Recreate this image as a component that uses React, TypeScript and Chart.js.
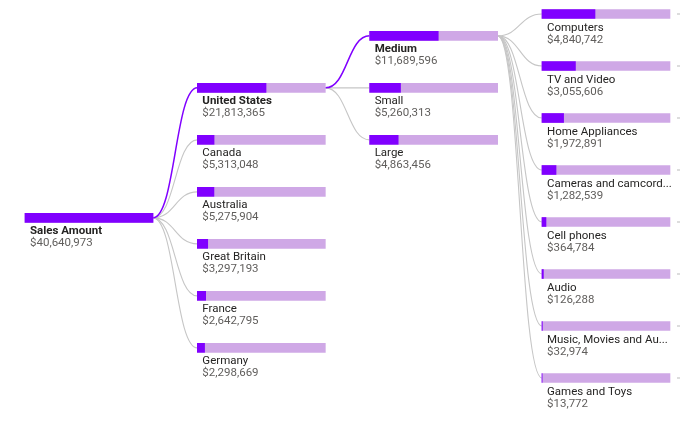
import React, { useEffect, useRef } from "react";
import { Chart, registerables } from "chart.js";

Chart.register(...registerables);

// ---- data ----
const rootLabel = "Sales Amount";
const rootValue = 40640973;

const countries = ["United States", "Canada", "Australia", "Great Britain", "France", "Germany"];
const countryValues = [21813365, 5313048, 5275904, 3297193, 2642795, 2298669];

const sizes = ["Medium", "Small", "Large"];
const sizeValues = [11689596, 5260313, 4863456];

const categories = [
  "Computers",
  "TV and Video",
  "Home Appliances",
  "Cameras and camcorders",
  "Cell phones",
  "Audio",
  "Music, Movies and Audio Books",
  "Games and Toys",
];
const categoryValues = [4840742, 3055606, 1972891, 1282539, 364784, 126288, 32974, 13772];

// index of expanded (highlighted) node on each level
const expandedCountry = 0;
const expandedSize = 0;

// ---- layout constants ----
const W = 683;
const H = 428;
const LEVEL_PX = 172.33;
const ROW_PX = 52;
const BAR_W = 128 / LEVEL_PX;
const ROOT_ROW = 3.92;

const DARK = "#8000FF";
const LIGHT = "#CFA8E6";
const LINE_GREY = "#C6C6C6";

type Node = {
  label: string;
  value: number;
  parentValue: number;
  level: number;
  row: number;
  parent: number;
  hi: boolean;
};

function buildNodes(): Node[] {
  const nodes: Node[] = [];
  nodes.push({ label: rootLabel, value: rootValue, parentValue: rootValue, level: 0, row: ROOT_ROW, parent: -1, hi: true });
  const n1 = countries.length;
  const l1Start = nodes.length;
  countries.forEach((c, i) => {
    nodes.push({
      label: c,
      value: countryValues[i],
      parentValue: rootValue,
      level: 1,
      row: ROOT_ROW + (i - (n1 - 1) / 2),
      parent: 0,
      hi: i === expandedCountry,
    });
  });
  const p1 = l1Start + expandedCountry;
  const l2Start = nodes.length;
  sizes.forEach((s, i) => {
    nodes.push({
      label: s,
      value: sizeValues[i],
      parentValue: countryValues[expandedCountry],
      level: 2,
      row: Math.max(0, nodes[p1].row - (sizes.length - 1) / 2) + i,
      parent: p1,
      hi: i === expandedSize,
    });
  });
  const p2 = l2Start + expandedSize;
  const first3 = Math.max(0, nodes[p2].row - (categories.length - 1) / 2);
  categories.forEach((c, i) => {
    nodes.push({
      label: c,
      value: categoryValues[i],
      parentValue: sizeValues[expandedSize],
      level: 3,
      row: first3 + i,
      parent: p2,
      hi: false,
    });
  });
  return nodes;
}

const fmt = (v: number) => "$" + v.toLocaleString("en-US");

export default function App() {
  const ref = useRef<HTMLCanvasElement>(null);

  useEffect(() => {
    const nodes = buildNodes();
    const FONT = "Roboto, 'Noto Sans', sans-serif";
    const FS = "11.5px ";

    const treePlugin = {
      id: "tree",
      beforeDatasetsDraw(chart: any) {
        const ctx = chart.ctx;
        const xs = chart.scales.x;
        const ys = chart.scales.y;
        const drawLinks = (hiPass: boolean) => {
          nodes.forEach((n) => {
            if (n.parent < 0) return;
            const p = nodes[n.parent];
            const isHi = n.hi && p.hi;
            if (isHi !== hiPass) return;
            const x0 = xs.getPixelForValue(p.level + BAR_W);
            const y0 = ys.getPixelForValue(p.row);
            const x1 = xs.getPixelForValue(n.level);
            const y1 = ys.getPixelForValue(n.row);
            const mx = x0 + (x1 - x0) * 0.5;
            ctx.save();
            ctx.beginPath();
            ctx.moveTo(x0, y0);
            ctx.bezierCurveTo(mx, y0, mx, y1, x1, y1);
            ctx.strokeStyle = isHi ? DARK : LINE_GREY;
            ctx.lineWidth = isHi ? 1.5 : 1.1;
            ctx.stroke();
            ctx.restore();
          });
        };
        drawLinks(false);
        drawLinks(true);
      },
      afterDatasetsDraw(chart: any) {
        const ctx = chart.ctx;
        const xs = chart.scales.x;
        const ys = chart.scales.y;
        ctx.save();
        ctx.textBaseline = "alphabetic";
        ctx.textAlign = "left";
        nodes.forEach((n) => {
          const x = xs.getPixelForValue(n.level) + 5;
          const maxW = xs.getPixelForValue(n.level + BAR_W) - x + 3;
          const y = ys.getPixelForValue(n.row);
          ctx.font = (n.hi ? "bold " : "") + FS + FONT;
          let label = n.label;
          if (ctx.measureText(label).width > maxW) {
            while (label.length > 1 && ctx.measureText(label + "...").width > maxW) {
              label = label.slice(0, -1);
            }
            label = label + "...";
          }
          ctx.fillStyle = "#252423";
          ctx.fillText(label, x, y + 16.5);
          ctx.font = FS + FONT;
          ctx.fillStyle = "#605E5C";
          ctx.fillText(fmt(n.value), x, y + 28.5);
          if (n.level === 3) {
            const ex = xs.getPixelForValue(n.level + BAR_W) + 7;
            ctx.fillStyle = "#BBBBBB";
            ctx.fillRect(ex, y - 0.5, 3, 1);
          }
        });
        ctx.restore();
      },
    };

    const darkData = nodes.map((n) => ({
      x: [n.level, n.level + (BAR_W * n.value) / n.parentValue],
      y: n.row,
    }));
    const lightData = nodes.map((n) => ({ x: [n.level, n.level + BAR_W], y: n.row }));

    const xMin = -25 / LEVEL_PX;
    const yMin = -14 / ROW_PX;

    const chart = new Chart(ref.current as HTMLCanvasElement, {
      type: "bar",
      data: {
        datasets: [
          {
            data: darkData as any,
            backgroundColor: DARK,
            barThickness: 9,
            grouped: false,
            order: 0,
          } as any,
          {
            data: lightData as any,
            backgroundColor: LIGHT,
            borderWidth: 0,
            barThickness: 9,
            grouped: false,
            order: 1,
          } as any,
        ],
      },
      plugins: [treePlugin],
      options: {
        indexAxis: "y",
        responsive: false,
        animation: false,
        devicePixelRatio: 1,
        layout: { padding: 0 },
        plugins: { legend: { display: false }, tooltip: { enabled: false } },
        scales: {
          x: { type: "linear", display: false, offset: false, min: xMin, max: xMin + W / LEVEL_PX },
          y: { type: "linear", display: false, offset: false, reverse: true, min: yMin, max: yMin + H / ROW_PX },
        },
      } as any,
    });
    return () => chart.destroy();
  }, []);

  return (
    <div style={{ position: "fixed", left: 0, top: 0, width: W, height: H, background: "#fff" }}>
      <canvas ref={ref} width={W} height={H} style={{ display: "block" }} />
    </div>
  );
}
